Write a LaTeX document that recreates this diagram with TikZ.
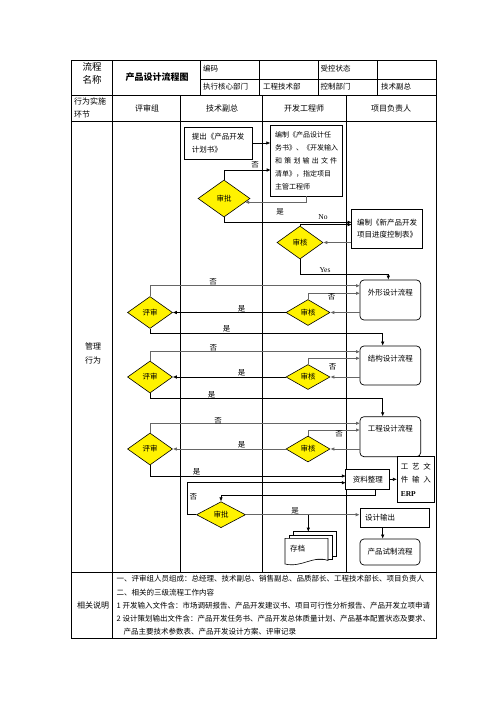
\documentclass[tikz,border=0pt]{standalone}
\usepackage{fontspec}
\setmainfont{Noto Sans CJK SC}
\newfontfamily\latinf{Liberation Serif}
\usetikzlibrary{shapes.geometric,arrows.meta,calc}
\begin{document}
\begin{tikzpicture}[x=1pt,y=-1pt,
  tline/.style={line width=0.8pt},
  fl/.style={line width=0.6pt, draw=black},
  gl/.style={line width=1pt, draw=black!60},
  arr/.style={-{Latex[length=4pt,width=3.5pt]}},
  box/.style={draw, line width=0.7pt, fill=white, inner sep=0pt, font=\fontsize{7.5}{12.5}\selectfont},
  rbox/.style={box, rounded corners=4pt},
  dia/.style={diamond, draw, fill=yellow, line width=0.6pt, inner sep=0pt, font=\fontsize{7.5}{9}\selectfont},
  lab/.style={font=\fontsize{7.5}{9}\selectfont, inner sep=0pt},
  hd/.style={font=\fontsize{8}{9}\selectfont, inner sep=0pt},
  sm/.style={font=\fontsize{7.5}{9}\selectfont, inner sep=0pt, anchor=west},
]
\useasboundingbox[fill=white] (0,0) rectangle (496,702);

% ---------- table ----------
\draw[tline] (71.7,60) rectangle (436,638);
\draw[tline] (71.7,95) -- (436,95);
\draw[tline] (71.7,121) -- (436,121);
\draw[tline] (71.7,572) -- (436,572);
\draw[tline] (112,60) -- (112,638);
\foreach \x in {200,259,318,377} \draw[tline] (\x,60) -- (\x,95);
\draw[tline] (200,79) -- (436,79);
\foreach \x in {180.7,262.5,346} \draw[tline] (\x,95) -- (\x,572);

% header texts
\node[hd, font=\fontsize{9.5}{11}\selectfont] (h1) at (92,66.5) {流程};
\node[hd, font=\fontsize{9.5}{11}\selectfont] (h2) at (92,79.5) {名称};
\node[hd, font=\fontsize{9}{11}\selectfont\bfseries] (title) at (157,77) {产品设计流程图};
\node[sm] (h3) at (203,68.5) {编码};
\node[sm] (h4) at (320.5,68.5) {受控状态};
\node[sm] (h5) at (203,87) {执行核心部门};
\node[sm] (h6) at (263,87) {工程技术部};
\node[sm] (h7) at (320.5,87) {控制部门};
\node[sm] (h8) at (381,87) {技术副总};
\node[hd, anchor=west] (c0a) at (74,101.5) {行为实施};
\node[hd, anchor=west] (c0b) at (74,114) {环节};
\node[hd] (c1) at (147,108) {评审组};
\node[hd] (c2) at (222,108) {技术副总};
\node[hd] (c3) at (304,108) {开发工程师};
\node[hd] (c4) at (391,108) {项目负责人};
\node[hd] (g1) at (93,346) {管理};
\node[hd] (g2) at (93,360) {行为};
\node[hd] (g3) at (93,605) {相关说明};

% bottom notes
\node[sm] (n1) at (116.5,579) {一、评审组人员组成：总经理、技术副总、销售副总、品质部长、工程技术部长、项目负责人};
\node[sm] (n2) at (116.5,592.3) {二、相关的三级流程工作内容};
\node[sm] (n3) at (116.5,605.7) {1 开发输入文件含：市场调研报告、产品开发建议书、项目可行性分析报告、产品开发立项申请};
\node[sm] (n4) at (116.5,619) {2 设计策划输出文件含：产品开发任务书、产品开发总体质量计划、产品基本配置状态及要求、};
\node[sm] (n5) at (123.3,631.7) {产品主要技术参数表、产品开发设计方案、评审记录};

% ---------- flow nodes ----------
\node[box, minimum width=68pt, minimum height=32pt, align=left] (b1) at (218,143) {提出《产品开发\\计划书》};
\node[box, minimum width=72pt, minimum height=71pt, align=left, font=\fontsize{7}{13}\selectfont] (b2) at (306.7,160.5)
  {编制《产品设计任\\务书》、《开发输入\\\makebox[62pt][s]{和\hfill 策\hfill 划\hfill 输\hfill 出\hfill 文\hfill 件}\\清单》，指定项目\\主管工程师};
\node[dia, minimum width=52pt, minimum height=37pt] (d1) at (224,198.5) {审批};
\node[box, minimum width=71pt, minimum height=39pt, align=left, font=\fontsize{7.5}{11.7}\selectfont] (b3) at (387.2,228.5) {编制《新产品开发\\项目进度控制表》};
\node[dia, minimum width=46pt, minimum height=33pt] (d2) at (300,242.5) {审核};

\node[rbox, minimum width=60.7pt, text height=15pt, text depth=25pt] (r1) at (390.3,300) {外形设计流程};
\node[dia, minimum width=45pt, minimum height=32pt] (e1) at (150,312.5) {评审};
\node[dia, minimum width=44pt, minimum height=26pt] (s1) at (308,312.5) {审核};

\node[rbox, minimum width=60.7pt, text height=15pt, text depth=24pt] (r2) at (390.3,365.5) {结构设计流程};
\node[dia, minimum width=45pt, minimum height=32pt] (e2) at (150,377) {评审};
\node[dia, minimum width=44pt, minimum height=25pt] (s2) at (308,377) {审核};

\node[rbox, minimum width=60.7pt, text height=15pt, text depth=25pt] (r3) at (390.3,436.7) {工程设计流程};
\node[dia, minimum width=45pt, minimum height=32pt] (e3) at (150,449) {评审};
\node[dia, minimum width=44pt, minimum height=26pt] (s3) at (308,449) {审核};

\node[box, minimum width=44pt, minimum height=20pt] (z) at (367.8,479.3) {资料整理};
\node[box, minimum width=37pt, minimum height=45.6pt, align=left, font=\fontsize{7.5}{13.5}\selectfont] (erp) at (415.8,479.5)
  {\makebox[30pt][s]{工\hfill 艺\hfill 文}\\\makebox[30pt][s]{件\hfill 输\hfill 入}\\{\latinf\bfseries ERP}};
\node[dia, minimum width=49pt, minimum height=26pt] (d3) at (221,514.7) {审批};
\node[box, minimum width=69.3pt, minimum height=19pt, text width=59.3pt, inner xsep=5pt, align=left] (out) at (394.7,517.8) {设计输出};
\node[rbox, minimum width=60pt, minimum height=26pt] (tr) at (390,552) {产品试制流程};

% multi-document shape
\draw[line width=0.6pt, fill=white] (293,531.7) rectangle (336,556);
\draw[line width=0.6pt, fill=white] (289,535) rectangle (332,559.5);
\draw[line width=0.6pt, fill=white] (285,538.3) -- (328,538.3) -- (328,560.5)
  .. controls (313,555) and (302,568) .. (285,564) -- cycle;
\node[lab] (doc) at (297.5,549) {存档};

% ---------- connectors ----------
\draw[arr,fl] (b1.east) -- (b1.east -| b2.west);
\coordinate (b2a) at (270.7,170);
\draw[arr,fl] (d1.north) |- (b2a);
\draw[arr,gl] (b2.south) |- (d1.-10);
\coordinate (b3a) at (351.7,222.3);
\coordinate (b3b) at (351.7,224.6);
\draw[arr,fl] (d1.south) |- (b3a);
\draw[arr,fl] (d2.north) |- (b3b);
\draw[arr,gl] (b3.west |- d2.east) -- (d2.east);
\coordinate (y1) at (388.3,274);
\draw[arr,fl] (d2.south) |- (y1) -- (y1 |- r1.north);

% row 1
\coordinate (r1a) at (360,285.7);
\coordinate (r1b) at (360,293.3);
\draw[arr,gl] (e1.north) |- (r1a);
\draw[arr,gl] (s1.north) |- (r1b);
\draw[arr,gl] (r1.west |- s1.east) -- (s1.east);
\draw[arr,fl] (s1.west) -- (e1.east);
\coordinate (m1) at (382.7,333.3);
\draw[arr,fl] (e1.south) |- (m1) -- (m1 |- r2.north);

% row 2
\coordinate (r2a) at (360,351.7);
\coordinate (r2b) at (360,358.3);
\draw[arr,gl] (e2.north) |- (r2a);
\draw[arr,gl] (s2.north) |- (r2b);
\draw[arr,gl] (r2.west |- s2.east) -- (s2.east);
\draw[arr,fl] (s2.west) -- (e2.east);
\coordinate (m2) at (382.7,398.3);
\draw[arr,fl] (e2.south) |- (m2) -- (m2 |- r3.north);

% row 3
\coordinate (r3a) at (360,423.3);
\coordinate (r3b) at (360,430);
\draw[arr,gl] (e3.north) |- (r3a);
\draw[arr,gl] (s3.north) |- (r3b);
\draw[arr,gl] (r3.west |- s3.east) -- (s3.east);
\draw[arr,gl] (s3.west) -- (e3.east);
\coordinate (zw1) at (345.8,476);
\draw[arr,fl] (e3.south) |- (zw1);

% bottom
\draw[arr,fl] (z.east) -- (z.east -| erp.west);
\coordinate (zs) at ($(z.south)+(7,0)$);
\draw[arr,fl] (zs) -- ++(0,6) -| (d3.north);
\coordinate (zw2) at (345.8,482.7);
\draw[arr,fl] (d3.west) -- ++(-9,0) |- (zw2);
\draw[arr,gl] (d3.east) -- (d3.east -| out.west);
\coordinate (dtop) at (308.3,531.7);
\draw[arr,fl] (dtop |- d3.east) -- (dtop);
\coordinate (o1) at ($(out.south)+(-12,0)$);
\draw[arr,fl] (o1) -- (o1 |- tr.north);

% ---------- labels ----------
\node[lab] (L1) at (255,165) {否};
\node[lab] (L2) at (280,212) {是};
\node[lab, font=\fontsize{7.5}{9}\latinf] (L3) at (323,217) {No};
\node[lab, font=\fontsize{7.5}{9}\latinf] (L4) at (325,270) {Yes};
\node[lab] (L5) at (213,282) {否};
\node[lab] (L6) at (331.7,297) {否};
\node[lab] (L7) at (241.7,308.5) {是};
\node[lab] (L8) at (226.7,329) {是};
\node[lab] (L9) at (213.3,348) {否};
\node[lab] (L10) at (332.7,366.7) {否};
\node[lab] (L11) at (241.7,373) {是};
\node[lab] (L12) at (211.7,394.5) {是};
\node[lab] (L13) at (218,420.5) {否};
\node[lab] (L14) at (339,434) {否};
\node[lab] (L15) at (241.7,445) {是};
\node[lab] (L16) at (196.7,471.7) {是};
\node[lab] (L17) at (193.3,497.3) {否};
\node[lab] (L18) at (295,510.5) {是};
\end{tikzpicture}
\end{document}
